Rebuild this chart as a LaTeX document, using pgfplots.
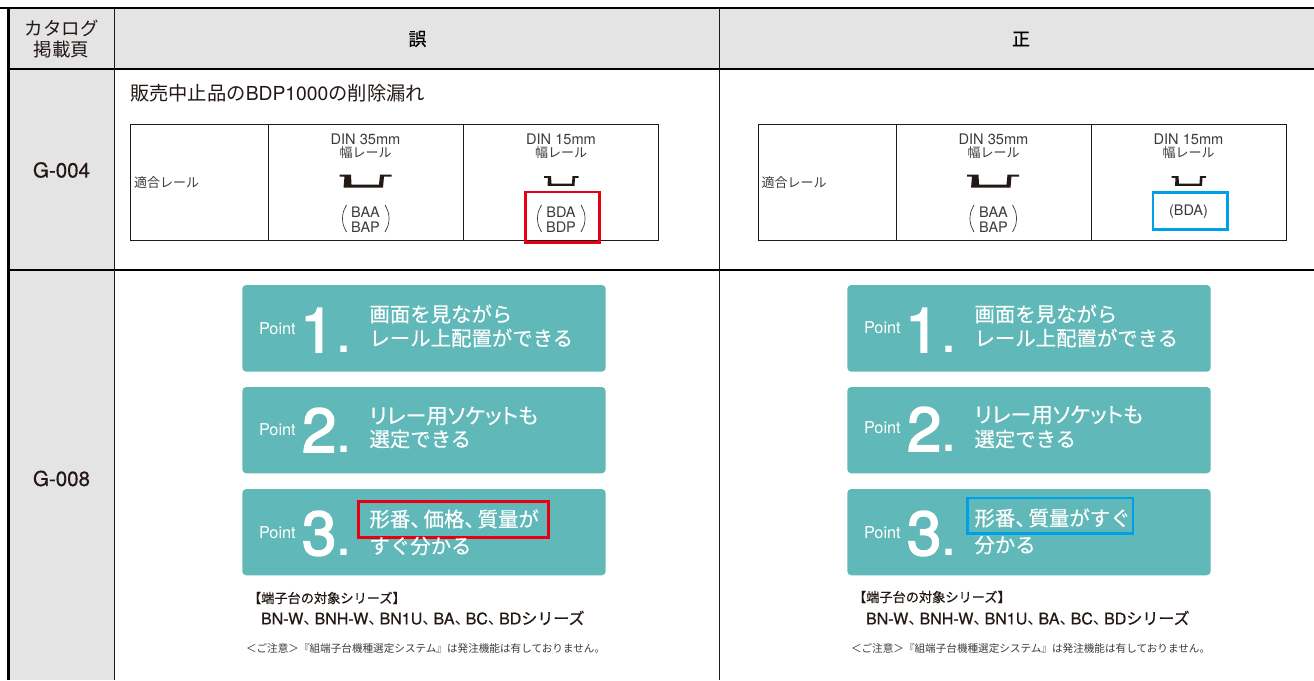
\documentclass[border=0pt]{standalone}
\usepackage{pgfplots}
\pgfplotsset{compat=1.18}
\usepackage{fontspec}
\setmainfont{TeX Gyre Heros}
\newfontfamily\cjk{Noto Sans CJK JP}
\newfontfamily\cjkw[FakeBold=0.3]{Noto Sans CJK JP}
\newfontfamily\cjkp[FakeBold=0.3,RawFeature=+palt]{Noto Sans CJK JP}
\newfontfamily\cjkm[FakeBold=0.6]{Noto Sans CJK JP}
\newfontfamily\latm[FakeBold=0.6]{TeX Gyre Heros}
\newfontfamily\latd[FakeBold=2.5]{TeX Gyre Heros}
\newcommand\J[1]{{\cjk #1}}
\newcommand\W[1]{{\cjkw #1}}
\newcommand\JM[1]{{\cjkm #1}}
\newcommand\LM[1]{{\latm #1}}
\newcommand\D[1]{{\latd #1}}
\definecolor{ink}{HTML}{231815}
\definecolor{tealb}{HTML}{61B8B8}
\definecolor{hdr}{HTML}{E4E4E4}
\definecolor{redb}{HTML}{E60012}
\definecolor{blueb}{HTML}{00A0E9}
\definecolor{soft}{HTML}{3E3A39}
% #1 x, #2 y, #3 anchor, #4 size, #5 colour, #6 text
\newcommand\T[6]{\node[anchor=#3,inner sep=0pt,outer sep=0pt,text=#5,font=\fontsize{#4}{#4}\selectfont] at (axis cs:#1,#2) {#6};}
% #1 line colour, #2 width, #3 x1, #4 y1, #5 x2, #6 y2
\newcommand\Ln[6]{\addplot[draw=#1,line width=#2pt] coordinates {(#3,#4) (#5,#6)};}
% open rectangle
\newcommand\Bx[6]{\addplot[draw=#1,line width=#2pt,fill=none] coordinates {(#3,#4) (#5,#4) (#5,#6) (#3,#6)} --cycle;}
% filled rectangle
\newcommand\Fl[5]{\addplot[draw=none,fill=#1] coordinates {(#2,#3) (#4,#3) (#4,#5) (#2,#5)} --cycle;}
% teal rounded panel
\newcommand\Pn[4]{\addplot[draw=none,fill=tealb,rounded corners=4pt] coordinates {(#1,#2) (#3,#2) (#3,#4) (#1,#4)} --cycle;}
\begin{document}
\begin{tikzpicture}
\begin{axis}[
  scale only axis, width=1314pt, height=680pt,
  xmin=0, xmax=1314, ymin=0, ymax=680, y dir=reverse,
  hide axis, no markers, clip=true,
]
\Fl{white}{0}{0}{1314}{680}
% shaded cells
\Fl{hdr}{8}{8}{1314}{68}
\Fl{hdr}{8}{68}{114}{680}
% table rules
\Ln{black}{2.2}{0}{8}{1314}{8}
\Ln{black}{2}{8}{68.5}{1314}{68.5}
\Ln{black}{2}{8}{269.5}{1314}{269.5}
\Ln{black}{2.4}{8.5}{7}{8.5}{680}
\Ln{ink}{1.3}{114.5}{8}{114.5}{680}
\Ln{ink}{1.2}{719.5}{8}{719.5}{680}
% inner tables
\Bx{ink}{0.9}{130.5}{124}{658.5}{240.5}
\Ln{ink}{0.9}{268}{124}{268}{240.5}
\Ln{ink}{0.9}{463.5}{124}{463.5}{240.5}
\Bx{ink}{0.9}{758}{124}{1286.5}{240.5}
\Ln{ink}{0.9}{896}{124}{896}{240.5}
\Ln{ink}{0.9}{1091}{124}{1091}{240.5}
% rails 35
\addplot[draw=none,fill=ink] coordinates {(339.5,174.5)(351,174.5)(351.5,184.5)(379,184.5)(380,174.5)(391.5,174.5)(391.5,176.5)(384,176.5)(383,187.7)(343.5,187.7)(344.5,176.5)(339.5,176.5)} --cycle;
\addplot[draw=none,fill=ink] coordinates {(967,174.5)(978.5,174.5)(979,184.5)(1006.5,184.5)(1007.5,174.5)(1019,174.5)(1019,176.5)(1011.5,176.5)(1010.5,187.7)(971,187.7)(972,176.5)(967,176.5)} --cycle;
% rails 15
\addplot[draw=none,fill=ink] coordinates {(544,176)(551,176)(551.5,183.5)(572,183.5)(572.5,176)(578.5,176)(578.5,177.8)(575,177.8)(574.5,185.8)(547.5,185.8)(548,177.8)(544,177.8)} --cycle;
\addplot[draw=none,fill=ink] coordinates {(1171.5,176)(1178.5,176)(1179,183.5)(1199.5,183.5)(1200,176)(1206,176)(1206,177.8)(1202.5,177.8)(1202,185.8)(1175,185.8)(1175.5,177.8)(1171.5,177.8)} --cycle;
% tall parentheses
\addplot[draw=soft,line width=0.7pt,smooth] coordinates {(346.5,205)(343.3,212)(342.5,218.5)(343.3,225)(346.5,232)};
\addplot[draw=soft,line width=0.7pt,smooth] coordinates {(385,205)(388.2,212)(389,218.5)(388.2,225)(385,232)};
\addplot[draw=soft,line width=0.7pt,smooth] coordinates {(541.5,205)(538.3,212)(537.5,218.5)(538.3,225)(541.5,232)};
\addplot[draw=soft,line width=0.7pt,smooth] coordinates {(581,205)(584.2,212)(585,218.5)(584.2,225)(581,232)};
\addplot[draw=soft,line width=0.7pt,smooth] coordinates {(974,205)(970.8,212)(970,218.5)(970.8,225)(974,232)};
\addplot[draw=soft,line width=0.7pt,smooth] coordinates {(1012.5,205)(1015.7,212)(1016.5,218.5)(1015.7,225)(1012.5,232)};
% panels
\Pn{242.3}{285}{605.7}{371.7}
\Pn{242.3}{387}{605.7}{473.3}
\Pn{242.3}{489}{605.7}{575.3}
\Pn{847.3}{285}{1210.7}{371.7}
\Pn{847.3}{387}{1210.7}{473.3}
\Pn{847.3}{489}{1210.7}{575.3}
% highlight boxes
\Bx{redb}{2.9}{525.7}{192}{599.5}{242.5}
\Bx{blueb}{2.9}{1153}{192.7}{1227.5}{229.3}
\Bx{redb}{2.9}{358.5}{501.7}{548.3}{537.7}
\Bx{blueb}{2.9}{967.7}{498}{1133}{533.3}
% header text
\T{61.5}{28}{center}{18.5}{ink}{\J{カタログ}}
\T{61.5}{49}{center}{18.5}{ink}{\J{掲載頁}}
\T{417.5}{39}{center}{18}{black}{\JM{誤}}
\T{1021}{39}{center}{18}{black}{\JM{正}}
\T{61.5}{170}{center}{20.5}{ink}{\LM{G-004}}
\T{61.5}{478.5}{center}{20.5}{ink}{\LM{G-008}}
\T{130}{93}{west}{19.3}{ink}{\J{販売中止品の}BDP1000\J{の削除漏れ}}
% inner left table
\T{134}{183}{west}{13}{soft}{\J{適合レール}}
\T{365.5}{139}{center}{14.6}{soft}{DIN 35mm}
\T{365.5}{153}{center}{13}{soft}{\J{幅レール}}
\T{365.5}{212}{center}{14.5}{soft}{BAA}
\T{365.5}{227}{center}{14.5}{soft}{BAP}
\T{561}{139}{center}{14.6}{soft}{DIN 15mm}
\T{561}{153}{center}{13}{soft}{\J{幅レール}}
\T{561}{212}{center}{14.5}{soft}{BDA}
\T{561}{227}{center}{14.5}{soft}{BDP}
% inner right table
\T{761.5}{183}{west}{13}{soft}{\J{適合レール}}
\T{993.5}{139}{center}{14.6}{soft}{DIN 35mm}
\T{993.5}{153}{center}{13}{soft}{\J{幅レール}}
\T{993.5}{212}{center}{14.5}{soft}{BAA}
\T{993.5}{227}{center}{14.5}{soft}{BAP}
\T{1188.5}{139}{center}{14.6}{soft}{DIN 15mm}
\T{1188.5}{153}{center}{13}{soft}{\J{幅レール}}
\T{1188.5}{212}{center}{14.5}{soft}{(BDA)}
% left points
\T{259}{329}{west}{16.3}{white}{Point}
\T{259}{430}{west}{16.3}{white}{Point}
\T{259}{533}{west}{16.3}{white}{Point}
\T{300}{352}{base west}{62}{white}{\D{1}}
\T{302}{452}{base west}{62}{white}{\D{2}}
\T{302}{555}{base west}{62}{white}{\D{3}}
\T{335}{352}{base west}{61}{white}{.}
\T{335}{452}{base west}{61}{white}{.}
\T{335}{555}{base west}{61}{white}{.}
\T{369.5}{314}{west}{20.4}{white}{\W{画面を見ながら}}
\T{369.5}{338}{west}{20.4}{white}{\W{レール上配置ができる}}
\T{369.5}{416}{west}{21.2}{white}{\W{\cjkp リレー用ソケットも}}
\T{369.5}{439}{west}{20.4}{white}{\W{選定できる}}
\T{369.5}{519}{west}{20.4}{white}{\W{形番、\kern-.35em 価格、\kern-.35em 質量が}}
\T{369.5}{546}{west}{20.4}{white}{\W{すぐ分かる}}
% right points
\T{864}{328}{west}{16.3}{white}{Point}
\T{864}{428}{west}{16.3}{white}{Point}
\T{864}{533}{west}{16.3}{white}{Point}
\T{905}{352}{base west}{62}{white}{\D{1}}
\T{907}{451}{base west}{62}{white}{\D{2}}
\T{907}{555}{base west}{62}{white}{\D{3}}
\T{940}{352}{base west}{61}{white}{.}
\T{940}{451}{base west}{61}{white}{.}
\T{940}{555}{base west}{61}{white}{.}
\T{974.5}{314}{west}{20.4}{white}{\W{画面を見ながら}}
\T{974.5}{338}{west}{20.4}{white}{\W{レール上配置ができる}}
\T{974.5}{415}{west}{21.2}{white}{\W{\cjkp リレー用ソケットも}}
\T{974.5}{439}{west}{20.4}{white}{\W{選定できる}}
\T{974.5}{518}{west}{20.4}{white}{\W{形番、\kern-.35em 質量がすぐ}}
\T{974.5}{545}{west}{20.4}{white}{\W{分かる}}
% series text
\T{248}{598}{west}{13.2}{ink}{\JM{【端子台の対象シリーズ】}}
\T{261}{618}{west}{16}{ink}{\LM{BN-W}\J{、\kern-.3em}\LM{BNH-W}\J{、\kern-.3em}\LM{BN1U}\J{、\kern-.3em}\LM{BA}\J{、\kern-.3em}\LM{BC}\J{、\kern-.3em}\LM{BD}\JM{シリーズ}}
\T{246}{648}{west}{10.6}{soft}{\J{＜ご注意＞『組端子台機種選定システム』は発注機能は有しておりません。}}
\T{853}{597}{west}{13.2}{ink}{\JM{【端子台の対象シリーズ】}}
\T{866}{618}{west}{16}{ink}{\LM{BN-W}\J{、\kern-.3em}\LM{BNH-W}\J{、\kern-.3em}\LM{BN1U}\J{、\kern-.3em}\LM{BA}\J{、\kern-.3em}\LM{BC}\J{、\kern-.3em}\LM{BD}\JM{シリーズ}}
\T{851}{648}{west}{10.6}{soft}{\J{＜ご注意＞『組端子台機種選定システム』は発注機能は有しておりません。}}
\end{axis}
\end{tikzpicture}
\end{document}
